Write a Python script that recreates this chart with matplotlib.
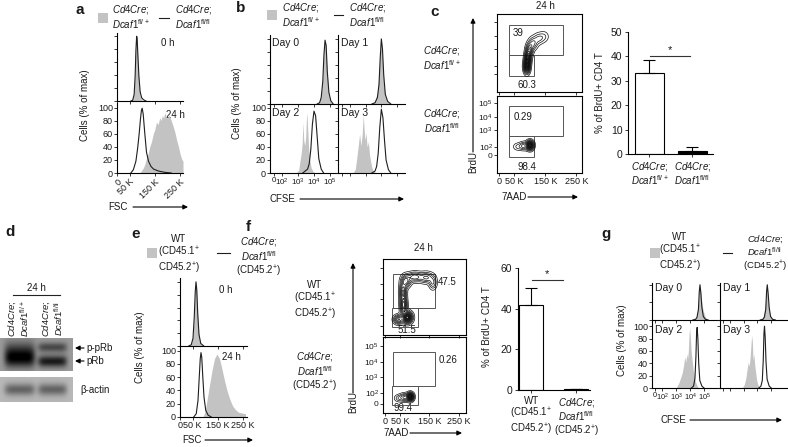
import numpy as np
import matplotlib
matplotlib.use("Agg")
import matplotlib.pyplot as plt
from matplotlib.patches import Rectangle

plt.rcParams['font.family'] = ['Liberation Sans', 'DejaVu Sans']
plt.rcParams['mathtext.fontset'] = 'custom'
plt.rcParams['mathtext.rm'] = 'Liberation Sans'
plt.rcParams['mathtext.it'] = 'Liberation Sans:italic'
plt.rcParams['mathtext.bf'] = 'Liberation Sans:bold'
plt.rcParams['font.size'] = 7

# ---------------- data ----------------
# panel a : FSC (K), % of max
a0_x = [55, 62, 68, 72, 75, 78, 80, 83, 87, 92, 98, 105, 115]
a0_grey = [0, 2, 15, 45, 85, 100, 92, 60, 28, 8, 2, 0, 0]
a0_black = [0, 1, 10, 38, 78, 100, 96, 70, 38, 14, 5, 2, 0]
a24_bx = [55, 65, 75, 82, 88, 93, 97, 100, 104, 110, 117, 125, 135, 145, 165, 190, 215]
a24_black = [0, 5, 18, 38, 60, 82, 96, 99, 90, 62, 32, 18, 10, 6, 3, 1, 0]
a24_gx = [91, 98, 105, 111, 117, 124, 130, 137, 144, 150, 157, 163, 170, 175, 180, 185, 190, 195, 200, 205, 210, 217, 224, 230, 237, 244, 250, 256, 262]
a24_grey = [0, 4, 8, 14, 22, 30, 40, 48, 60, 66, 78, 74, 85, 80, 88, 84, 92, 86, 84, 88, 86, 78, 70, 62, 50, 40, 30, 22, 18]

# panel b : CFSE (decades), % of max
b_d0_x = [4.2, 4.35, 4.45, 4.55, 4.62, 4.69, 4.76, 4.83, 4.93, 5.05, 5.2]
b_d0_grey = [0, 3, 12, 40, 80, 100, 85, 45, 14, 3, 0]
b_d0_black = [0, 2, 10, 35, 75, 98, 90, 50, 18, 5, 0]
b_d1_x = [3.4, 3.6, 3.75, 3.85, 3.93, 4.0, 4.07, 4.15, 4.25, 4.4, 4.6]
b_d1_grey = [0, 5, 18, 45, 80, 92, 70, 35, 12, 3, 0]
b_d1_black = [0, 2, 10, 30, 72, 100, 85, 45, 15, 4, 0]
b_d2_bx = [3.3, 3.5, 3.6, 3.7, 3.8, 3.9, 4.0, 4.1, 4.2, 4.3, 4.45, 4.6]
b_d2_black = [0, 4, 6, 14, 36, 75, 95, 88, 55, 22, 6, 0]
b_d2_gx = [2.9, 3.05, 3.12, 3.2, 3.26, 3.31, 3.36, 3.42, 3.48, 3.53, 3.56, 3.6, 3.66, 3.73, 3.82, 3.95, 4.1]
b_d2_grey = [0, 5, 18, 30, 45, 78, 50, 42, 55, 85, 92, 70, 40, 20, 8, 2, 0]
b_d3_bx = [3.4, 3.6, 3.7, 3.8, 3.9, 4.0, 4.1, 4.2, 4.3, 4.45, 4.6]
b_d3_black = [0, 3, 10, 30, 70, 98, 85, 50, 20, 5, 0]
b_d3_gx = [2.2, 2.35, 2.45, 2.55, 2.62, 2.7, 2.78, 2.85, 2.9, 2.96, 3.02, 3.1, 3.18, 3.25, 3.32, 3.4, 3.5, 3.65]
b_d3_grey = [0, 6, 25, 45, 60, 42, 58, 89, 70, 50, 62, 40, 48, 28, 18, 8, 3, 0]

# panel c : contour clusters (7AAD K, BrdU display units, sx, sy, weight)
c_top_comps = [(90, 1.9, 6, 0.3, 1.0), (93, 2.5, 6, 0.3, 0.8), (98, 3.1, 7, 0.3, 0.5),
               (110, 3.6, 9, 0.28, 0.3), (128, 3.95, 10, 0.25, 0.2), (145, 4.1, 10, 0.25, 0.12)]
c_bot_comps = [(100, 2.05, 7, 0.2, 1.0), (80, 2.0, 9, 0.18, 0.3), (60, 1.95, 9, 0.17, 0.12),
               (160, 2.3, 20, 0.18, 0.03)]
c_gate_hi = (32, 206, 2.74, 4.96)
c_gate_lo = (32, 113, 1.19, 2.74)
c_pct_top = ["39", "60.3"]
c_pct_bot = ["0.29", "98.4"]
c_bar_vals = [33, 1.2]
c_bar_err = [5.5, 1.6]
c_sig_y = 40

# panel d : blot bands (lane x, y from top, half width, y sigma, darkness)
d_top_bands = [(0.27, 0.45, 0.21, 0.22, 0.40), (0.27, 0.68, 0.21, 0.17, 0.35),
               (0.72, 0.30, 0.2, 0.10, 0.32), (0.72, 0.72, 0.2, 0.12, 0.5)]
d_bot_bands = [(0.27, 0.5, 0.21, 0.17, 0.33), (0.72, 0.5, 0.2, 0.17, 0.33)]

# panel e : FSC (K)
e0_x = [35, 45, 52, 57, 61, 64, 67, 71, 76, 83, 95]
e0_grey = [0, 3, 15, 50, 88, 100, 85, 45, 15, 3, 0]
e0_black = [0, 2, 12, 45, 85, 100, 88, 50, 18, 4, 0]
e24_bx = [55, 65, 72, 77, 81, 84, 87, 91, 96, 103, 112, 125]
e24_black = [0, 5, 25, 60, 88, 97, 90, 62, 30, 10, 3, 0]
e24_gx = [92, 100, 108, 118, 128, 138, 148, 158, 168, 178, 188, 198, 210, 222, 235, 248, 262]
e24_grey = [0, 8, 25, 48, 70, 88, 95, 88, 72, 55, 40, 28, 17, 11, 7, 6, 5]

# panel f
f_top_comps = [(75, 1.3, 10, 0.25, 1.0), (45, 1.15, 10, 0.2, 0.5), (62, 2.2, 7, 0.4, 0.6),
               (60, 3.2, 7, 0.4, 0.5), (70, 4.0, 10, 0.28, 0.45), (100, 4.3, 15, 0.22, 0.4),
               (140, 4.25, 15, 0.24, 0.35), (162, 3.85, 8, 0.28, 0.25)]
f_bot_comps = [(85, 1.2, 7, 0.18, 1.0), (65, 1.15, 10, 0.18, 0.35), (45, 1.1, 9, 0.16, 0.15)]
f_gate_hi = (26, 170, 2.0, 4.5)
f_gate_lo = (23, 111, 0.6, 2.0)
f_pct_top = ["47.5", "51.5"]
f_pct_bot = ["0.26", "99.4"]
f_bar_vals = [42, 0.3]
f_bar_err = [8, 0.2]
f_sig_y = 54

# panel g : CFSE (decades)
g_d01_x = [4.2, 4.4, 4.5, 4.6, 4.66, 4.71, 4.77, 4.85, 4.95, 5.1, 5.3]
g_d0_grey = [0, 4, 15, 45, 85, 100, 80, 45, 25, 8, 0]
g_d0_black = [0, 2, 8, 30, 80, 100, 78, 35, 10, 2, 0]
g_d1_grey = [0, 8, 25, 60, 95, 90, 55, 25, 10, 3, 0]
g_d1_black = [0, 2, 8, 30, 80, 100, 78, 35, 10, 2, 0]
g_d23_bx = [4.1, 4.25, 4.35, 4.42, 4.47, 4.51, 4.56, 4.62, 4.7, 4.85, 5.0]
g_d2_black = [0, 3, 15, 50, 90, 98, 80, 40, 12, 3, 0]
g_d3_black = [0, 3, 12, 45, 88, 100, 82, 42, 14, 3, 0]
g_d2_gx = [3.0, 3.2, 3.35, 3.45, 3.55, 3.62, 3.7, 3.77, 3.83, 3.88, 3.93, 3.98, 4.03, 4.08, 4.15, 4.25, 4.35, 4.5, 4.6]
g_d2_grey = [0, 8, 18, 25, 38, 50, 42, 55, 48, 60, 88, 96, 80, 60, 45, 25, 12, 4, 0]
g_d3_gx = [2.9, 3.05, 3.15, 3.25, 3.33, 3.4, 3.47, 3.53, 3.58, 3.63, 3.68, 3.74, 3.8, 3.87, 3.95, 4.05, 4.2]
g_d3_grey = [0, 6, 15, 30, 42, 35, 50, 70, 85, 75, 45, 55, 38, 25, 12, 4, 0]

hist_yticks = [0, 20, 40, 60, 80, 100]
fsc_ticks = [0, 50, 150, 250]
fsc_labels = ['0', '50 K', '150 K', '250 K']
cfse_ticks = [1.5, 2, 3, 4, 5]
cfse_labels = ['0', r'$10^2$', r'$10^3$', r'$10^4$', r'$10^5$']
brdu_labels = ['0', r'$10^2$', r'$10^3$', r'$10^4$', r'$10^5$']

CRE = r"$\mathit{Cd4Cre;}$"
HET = r"$\mathit{Dcaf1}^{\mathrm{fl/+}}$"
KO = r"$\mathit{Dcaf1}^{\mathrm{fl/fl}}$"
WT3 = "WT\n(CD45.1$^{+}$\nCD45.2$^{+}$)"
KO3 = CRE + "\n" + KO + "\n(CD45.2$^{+}$)"

# ---------------- figure ----------------
W, H = 788, 447
fig = plt.figure(figsize=(W / 100, H / 100), dpi=100)
ov = fig.add_axes([0, 0, 1, 1])
ov.set_xlim(0, W)
ov.set_ylim(H, 0)
ov.axis('off')

GREY = '#c3c3c3'
LINE = '#1e1e1e'
TXT = '#1a1a1a'
TFS = 6.5


def pax(x0, y0, x1, y1):
    a = fig.add_axes([x0 / W, 1 - y1 / H, (x1 - x0) / W, (y1 - y0) / H])
    a.patch.set_alpha(0)
    return a


def T(x, y, s, **kw):
    d = dict(fontsize=7, ha='center', va='center', color=TXT)
    d.update(kw)
    ov.text(x, y, s, **d)


def arrow_h(x0, x1, y):
    ov.annotate('', xy=(x1, y), xytext=(x0, y),
                arrowprops=dict(arrowstyle='-|>', color='k', lw=0.8, mutation_scale=7,
                                shrinkA=0, shrinkB=0))


def arrow_v(x, y0, y1):
    ov.annotate('', xy=(x, y1), xytext=(x, y0),
                arrowprops=dict(arrowstyle='-|>', color='k', lw=0.8, mutation_scale=7,
                                shrinkA=0, shrinkB=0))


def hist(ax, gx, gy, bx, by, xlim, ylim, xt, xtl=None, ylab=False, rot=0, xfs=TFS):
    ax.fill_between(gx, gy, color=GREY, lw=0)
    ax.plot(bx, by, color=LINE, lw=0.8)
    ax.set_xlim(*xlim)
    ax.set_ylim(*ylim)
    for s in ['top', 'right']:
        ax.spines[s].set_visible(False)
    for s in ['left', 'bottom']:
        ax.spines[s].set_linewidth(0.8)
    ax.tick_params(direction='out', length=2, width=0.6, labelsize=TFS, pad=1, colors=TXT)
    ax.set_yticks(hist_yticks)
    if not ylab:
        ax.set_yticklabels([])
    ax.set_xticks(xt)
    if xtl is None:
        ax.set_xticklabels([])
    else:
        if rot:
            ax.set_xticklabels(xtl, rotation=rot, ha='right', va='top', rotation_mode='anchor',
                               fontsize=xfs)
        else:
            ax.set_xticklabels(xtl, fontsize=xfs)


def density(comps, xl, yl, n=260):
    xs = np.linspace(xl[0], xl[1], n)
    ys = np.linspace(yl[0], yl[1], n)
    X, Y = np.meshgrid(xs, ys)
    Z = np.zeros_like(X)
    for mx, my, sx, sy, w in comps:
        Z += w * np.exp(-0.5 * (((X - mx) / sx) ** 2 + ((Y - my) / sy) ** 2))
    return X, Y, Z / Z.max()


LEVELS = [0.04, 0.1, 0.17, 0.25, 0.33, 0.41, 0.49, 0.56, 0.63, 0.69, 0.75, 0.8, 0.85, 0.89,
          0.93, 0.96]


def contour_ax(ax, comps, xlim, ylim, gates, yt, ytl=None, xtl=None):
    X, Y, Z = density(comps, xlim, ylim)
    ax.contour(X, Y, Z, levels=LEVELS, colors='#111111', linewidths=0.5)
    for (gx0, gx1, gy0, gy1) in gates:
        ax.add_patch(Rectangle((gx0, gy0), gx1 - gx0, gy1 - gy0, fill=False,
                               edgecolor='#555555', lw=0.7))
    ax.set_xlim(*xlim)
    ax.set_ylim(*ylim)
    for s in ax.spines.values():
        s.set_linewidth(0.8)
    ax.tick_params(direction='out', length=2, width=0.6, labelsize=TFS, pad=1, colors=TXT)
    ax.set_yticks(yt)
    ax.set_yticklabels(ytl if ytl is not None else [], fontsize=6)
    ax.set_xticks(fsc_ticks)
    ax.set_xticklabels(xtl if xtl is not None else [])


def bar_ax(ax, vals, errs, labels, width, xlim, ylim, yt, sig_y, sig_x1):
    xs = np.arange(len(vals))
    ax.bar(xs, vals, width=width, color=['white', 'black'], edgecolor='black', lw=0.8)
    ax.errorbar(xs, vals, yerr=[[0] * len(errs), errs], fmt='none', ecolor='black',
                elinewidth=0.8, capsize=4, capthick=0.8)
    ax.set_xlim(*xlim)
    ax.set_ylim(*ylim)
    for s in ['top', 'right']:
        ax.spines[s].set_visible(False)
    for s in ['left', 'bottom']:
        ax.spines[s].set_linewidth(0.8)
    ax.set_yticks(yt)
    ax.tick_params(direction='out', length=2.5, width=0.6, labelsize=7.5, pad=1.5, colors=TXT)
    ax.set_xticks(xs)
    ax.set_xticklabels(labels, fontsize=7, linespacing=1.05)
    ax.plot([xs[0] + 0.02, xs[1] - sig_x1], [sig_y, sig_y], color='#333333', lw=0.8, clip_on=False)
    ax.text((xs[0] + xs[1] - sig_x1) / 2, sig_y + ylim[1] * 0.01, '*', ha='center', va='bottom',
            fontsize=8, color=TXT)


# ---------------- panel a ----------------
T(76, 10, 'a', fontsize=11, fontweight='bold', ha='left')
ov.add_patch(Rectangle((98, 13), 10, 10, color=GREY, lw=0))
T(112, 17, CRE + "\n" + HET, ha='left', linespacing=1.05)
ov.plot([159, 169], [18, 18], color=LINE, lw=0.8)
T(175, 17, CRE + "\n" + KO, ha='left', linespacing=1.05)
ax = pax(117, 33, 183, 101)
hist(ax, a0_x, a0_grey, a0_x, a0_black, (0, 262), (0, 105), fsc_ticks)
ax = pax(117, 103, 183, 173)
hist(ax, a24_gx, a24_grey, a24_bx, a24_black, (0, 262), (0, 107), fsc_ticks, fsc_labels,
     ylab=True, rot=45)
T(168, 43, '0 h', fontsize=7)
T(175, 115, '24 h', fontsize=7)
T(85, 105, 'Cells (% of max)', rotation=90, fontsize=7)
T(118, 207, 'FSC', fontsize=7)
arrow_h(133, 188, 207)

# ---------------- panel b ----------------
T(236, 8, 'b', fontsize=11, fontweight='bold', ha='left')
ov.add_patch(Rectangle((267, 10), 10, 10, color=GREY, lw=0))
T(282, 15, CRE + "\n" + HET, ha='left', linespacing=1.05)
ov.plot([334, 343], [15, 15], color=LINE, lw=0.8)
T(349, 15, CRE + "\n" + KO, ha='left', linespacing=1.05)
bxl = (1.25, 5.5)
ax = pax(270, 35, 338, 104)
hist(ax, b_d0_x, b_d0_grey, b_d0_x, b_d0_black, bxl, (0, 106), cfse_ticks)
ax = pax(338, 35, 405, 104)
hist(ax, b_d1_x, b_d1_grey, b_d1_x, b_d1_black, bxl, (0, 106), cfse_ticks)
ax = pax(270, 104, 338, 173)
hist(ax, b_d2_gx, b_d2_grey, b_d2_bx, b_d2_black, bxl, (0, 106), cfse_ticks, cfse_labels,
     ylab=True, xfs=5.8)
ax = pax(338, 104, 405, 173)
hist(ax, b_d3_gx, b_d3_grey, b_d3_bx, b_d3_black, bxl, (0, 106), cfse_ticks)
T(272, 43, 'Day 0', ha='left', fontsize=7.5)
T(341, 43, 'Day 1', ha='left', fontsize=7.5)
T(272, 113, 'Day 2', ha='left', fontsize=7.5)
T(341, 113, 'Day 3', ha='left', fontsize=7.5)
T(237, 103, 'Cells (% of max)', rotation=90, fontsize=7)
T(282, 199, 'CFSE', fontsize=7)
arrow_h(300, 404, 199)

# ---------------- panel c ----------------
T(430, 12, 'c', fontsize=11, fontweight='bold', ha='left')
T(545, 6, '24 h', fontsize=7)
c_yt = [1.33, 1.93, 3.19, 4.15, 5.19]
ax = pax(497, 14, 582, 92)
contour_ax(ax, c_top_comps, (-6.5, 268), (0, 78 / 13.5),
           [(c_gate_hi[0], c_gate_hi[1], c_gate_hi[2], c_gate_hi[3]),
            (c_gate_lo[0], c_gate_lo[1], c_gate_lo[2], c_gate_lo[3])], c_yt)
ax = pax(497, 96, 582, 173)
contour_ax(ax, c_bot_comps, (-6.5, 268), (0, 77 / 13.5),
           [(c_gate_hi[0], c_gate_hi[1], c_gate_hi[2], c_gate_hi[3]),
            (c_gate_lo[0], c_gate_lo[1], c_gate_lo[2], c_gate_lo[3])], c_yt, brdu_labels,
           fsc_labels)
T(518, 33, c_pct_top[0], fontsize=7)
T(527, 85, c_pct_top[1], fontsize=7)
T(523, 117, c_pct_bot[0], fontsize=7)
T(527, 167, c_pct_bot[1], fontsize=7)
T(442, 58, CRE + "\n" + HET, linespacing=1.1)
T(442, 121, CRE + "\n" + KO, linespacing=1.1)
arrow_v(473, 152, 18)
T(473, 162, 'BrdU', rotation=90, fontsize=7)
T(514, 197, '7AAD', fontsize=7)
arrow_h(528, 578, 197)

ax = pax(628, 32, 713, 154)
bar_ax(ax, c_bar_vals, c_bar_err, [CRE + "\n" + HET, CRE + "\n" + KO], 0.67, (-0.5, 1.48),
       (0, 50), [0, 10, 20, 30, 40, 50], c_sig_y, 0.05)
T(600, 93, '% of BrdU+ CD4 T', rotation=90, fontsize=7)

# ---------------- panel d ----------------
T(5, 232, 'd', fontsize=11, fontweight='bold', ha='left')
T(36, 288, '24 h', fontsize=7)
ov.plot([13, 60], [295, 295], color='#222222', lw=0.8)
T(19, 337, CRE + "\n" + HET, rotation=90, va='bottom', linespacing=1.0, fontsize=6.8)
T(53, 337, CRE + "\n" + KO, rotation=90, va='bottom', linespacing=1.0, fontsize=6.8)


def blot(ax, bands, bg):
    ny, nx = 60, 150
    yy, xx = np.meshgrid(np.linspace(0, 1, ny), np.linspace(0, 1, nx), indexing='ij')
    img = np.full((ny, nx), bg)
    for lx, ly, hw, sy, dk in bands:
        img = img - dk * np.exp(-((xx - lx) / hw) ** 6) * np.exp(-0.5 * ((yy - ly) / sy) ** 2)
    ax.imshow(np.clip(img, 0, 1), cmap='gray', vmin=0, vmax=1, aspect='auto',
              extent=(0, 1, 1, 0), interpolation='bilinear')
    ax.set_xticks([])
    ax.set_yticks([])
    for s in ax.spines.values():
        s.set_visible(False)


ax = pax(0, 338, 73, 371)
blot(ax, d_top_bands, 0.6)
ax = pax(0, 377, 73, 402)
blot(ax, d_bot_bands, 0.72)
arrow_h(84, 75, 348)
T(86, 348, 'p-pRb', ha='left', fontsize=7)
arrow_h(84, 75, 361)
T(86, 361, 'pRb', ha='left', fontsize=7)
T(80, 390, 'β-actin', ha='left', fontsize=7)

# ---------------- panel e ----------------
T(131, 234, 'e', fontsize=11, fontweight='bold', ha='left')
ov.add_patch(Rectangle((147, 248), 10, 10, color=GREY, lw=0))
T(179, 255, WT3, linespacing=1.05)
ov.plot([217, 230], [253, 253], color=LINE, lw=0.8)
T(259, 257, KO3, linespacing=1.05)
exl = (0, 268)
ax = pax(180, 278, 247, 346)
hist(ax, e0_x, e0_grey, e0_x, e0_black, exl, (0, 106), fsc_ticks)
ax = pax(180, 346, 247, 417)
hist(ax, e24_gx, e24_grey, e24_bx, e24_black, exl, (0, 107), fsc_ticks, fsc_labels, ylab=True)
T(226, 290, '0 h', fontsize=7)
T(231, 357, '24 h', fontsize=7)
T(140, 347, 'Cells (% of max)', rotation=90, fontsize=7)
T(192, 440, 'FSC', fontsize=7)
arrow_h(205, 253, 440)

# ---------------- panel f ----------------
T(246, 227, 'f', fontsize=11, fontweight='bold', ha='left')
T(423, 248, '24 h', fontsize=7)
f_yt = [0.67, 1.48, 2.67, 3.78, 4.96]
fxl = (-8, 275)
ax = pax(383, 259, 466, 335)
contour_ax(ax, f_top_comps, fxl, (0, 76 / 13.5),
           [(f_gate_hi[0], f_gate_hi[1], f_gate_hi[2], f_gate_hi[3]),
            (f_gate_lo[0], f_gate_lo[1], f_gate_lo[2], f_gate_lo[3])], f_yt)
ax = pax(383, 337, 466, 413)
contour_ax(ax, f_bot_comps, fxl, (0, 76 / 13.5),
           [(f_gate_hi[0], f_gate_hi[1], f_gate_hi[2], f_gate_hi[3]),
            (f_gate_lo[0], f_gate_lo[1], f_gate_lo[2], f_gate_lo[3])], f_yt, brdu_labels,
           fsc_labels)
T(447, 282, f_pct_top[0], fontsize=7)
T(407, 330, f_pct_top[1], fontsize=7)
T(448, 360, f_pct_bot[0], fontsize=7)
T(403, 408, f_pct_bot[1], fontsize=7)
T(315, 301, WT3, linespacing=1.1)
T(315, 372, KO3, linespacing=1.1)
arrow_v(353, 393, 263)
T(353, 402, 'BrdU', rotation=90, fontsize=7)
T(396, 433, '7AAD', fontsize=7)
arrow_h(410, 462, 433)

ax = pax(518, 268, 590, 390)
bar_ax(ax, f_bar_vals, f_bar_err, [WT3, KO3], 0.53, (-0.29, 1.3), (0, 60), [0, 20, 40, 60],
       f_sig_y, 0.29)
T(487, 327, '% of BrdU+ CD4 T', rotation=90, fontsize=7)

# ---------------- panel g ----------------
T(601, 234, 'g', fontsize=11, fontweight='bold', ha='left')
ov.add_patch(Rectangle((650, 248), 10, 10, color=GREY, lw=0))
T(680, 253, WT3, linespacing=1.05)
ov.plot([723, 732], [253, 253], color=LINE, lw=0.8)
T(765, 253, KO3, linespacing=1.05, fontsize=6.8)
gxl = (1.286, 6.14)
ax = pax(652, 283, 720, 320)
hist(ax, g_d01_x, g_d0_grey, g_d01_x, g_d0_black, gxl, (0, 105), cfse_ticks)
ax.set_yticks([0, 50, 100])
ax = pax(720, 283, 787, 320)
hist(ax, g_d01_x, g_d1_grey, g_d01_x, g_d1_black, gxl, (0, 105), cfse_ticks)
ax.set_yticks([0, 50, 100])
ax = pax(652, 320, 720, 388)
hist(ax, g_d2_gx, g_d2_grey, g_d23_bx, g_d2_black, gxl, (0, 110), cfse_ticks, cfse_labels,
     ylab=True, xfs=5.3)
ax = pax(720, 320, 787, 388)
hist(ax, g_d3_gx, g_d3_grey, g_d23_bx, g_d3_black, gxl, (0, 110), cfse_ticks)
T(655, 288, 'Day 0', ha='left', fontsize=7.5)
T(723, 288, 'Day 1', ha='left', fontsize=7.5)
T(655, 330, 'Day 2', ha='left', fontsize=7.5)
T(723, 330, 'Day 3', ha='left', fontsize=7.5)
T(622, 340, 'Cells (% of max)', rotation=90, fontsize=7)
T(673, 420, 'CFSE', fontsize=7)
arrow_h(690, 782, 420)

fig.savefig('out.png', dpi=100)
